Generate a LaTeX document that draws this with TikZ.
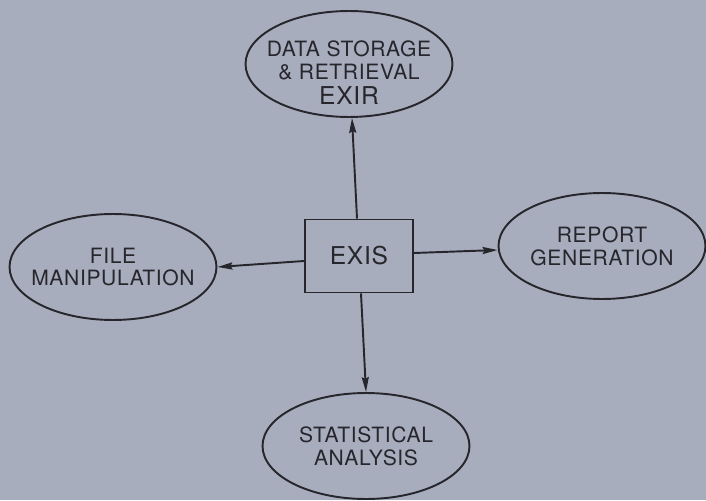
\documentclass[tikz,border=0pt]{standalone}
\usepackage{fontspec}
\setmainfont{TeX Gyre Heros}[LetterSpace=3]
\usetikzlibrary{shapes.geometric,arrows.meta}
\definecolor{slate}{RGB}{168,173,190}
\definecolor{ink}{RGB}{38,38,44}
\tikzset{
  task/.style={ellipse, draw=ink, line width=1.1pt, minimum width=4.14cm,
    minimum height=2.12cm, inner xsep=-0.3cm, inner ysep=-0.2cm, align=center,
    text=ink, font=\fontsize{12}{13}\selectfont},
  core/.style={rectangle, draw=ink, line width=1.1pt, minimum width=2.16cm,
    minimum height=1.46cm, text=ink, font=\fontsize{14}{16}\selectfont},
  flow/.style={-{Stealth[length=8.5pt,width=4pt,inset=1pt]}, draw=ink, line width=1.1pt}
}
\begin{document}
\begin{tikzpicture}[x=0.02cm,y=-0.02cm]
  \fill[slate] (0,0) rectangle (706,500);
  \useasboundingbox (0,0) rectangle (706,500);
  % hub
  \node[core] (exis) at (359,256) {EXIS};
  % subsystems
  \node[task, label={[text=ink, align=center, font=\fontsize{12}{13}\selectfont,
    yshift=-0.17cm]center:{DATA STORAGE\\\& RETRIEVAL\\[1pt]{\fontsize{14}{14}\selectfont EXIR}}}]
    (exir) at (349,64) {};
  \node[task] (file) at (113,267) {FILE\\MANIPULATION};
  \node[task] (rept) at (602,246) {REPORT\\GENERATION};
  \node[task] (stat) at (366,446) {STATISTICAL\\ANALYSIS};
  \draw[flow] ([xshift=-0.04cm]exis.north) -- ([xshift=0.06cm]exir.south);
  \draw[flow] ([yshift=-0.1cm]exis.west) -- (file.east);
  \draw[flow] ([yshift=0.06cm]exis.east) -- ([yshift=-0.08cm]rept.west);
  \draw[flow] ([xshift=0.04cm]exis.south) -- (stat.north);
\end{tikzpicture}
\end{document}
